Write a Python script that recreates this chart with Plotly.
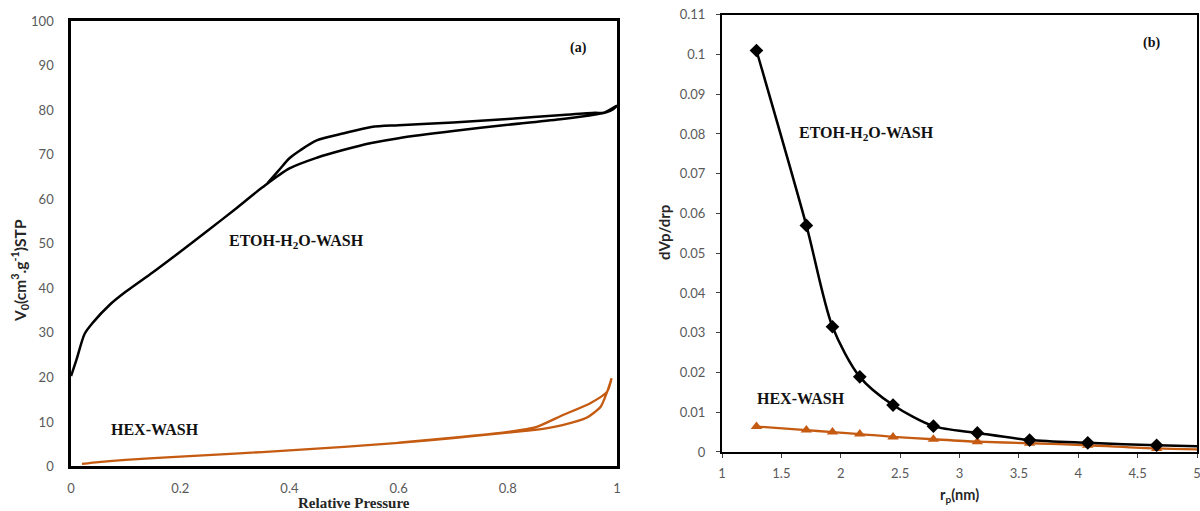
import plotly.graph_objects as go

# ---------------- Panel (a): N2 isotherms ----------------
etoh_ads_p = [0.0, 0.01, 0.025, 0.04, 0.07, 0.1, 0.15, 0.2, 0.25, 0.3, 0.35, 0.4, 0.45, 0.5,
              0.55, 0.6, 0.7, 0.8, 0.9, 0.96, 0.98, 0.993, 1.0]
etoh_ads_v = [20.3, 24.0, 29.8, 32.3, 36.2, 39.2, 43.6, 48.2, 52.9, 57.7, 62.6, 66.9, 69.3, 71.1,
              72.6, 73.7, 75.3, 76.7, 78.0, 79.0, 79.5, 80.2, 81.0]
etoh_des_p = [0.975, 0.96, 0.9, 0.8, 0.7, 0.6, 0.55, 0.5, 0.45, 0.42, 0.4, 0.38, 0.36]
etoh_des_v = [79.4, 79.4, 78.9, 78.0, 77.2, 76.6, 76.2, 74.8, 73.2, 71.0, 69.2, 66.4, 63.6]

hex_ads_p = [0.02, 0.05, 0.1, 0.2, 0.3, 0.4, 0.5, 0.6, 0.7, 0.8, 0.85, 0.9, 0.945, 0.97, 0.982, 0.99]
hex_ads_v = [0.6, 1.0, 1.5, 2.2, 2.9, 3.6, 4.4, 5.3, 6.4, 7.6, 8.2, 9.3, 11.0, 13.4, 16.8, 19.8]
hex_des_p = [0.982, 0.951, 0.9, 0.853, 0.8, 0.7, 0.6]
hex_des_v = [16.8, 14.2, 11.5, 8.9, 7.75, 6.45, 5.35]

# ---------------- Panel (b): pore size distribution ----------------
rp_nm = [1.29, 1.71, 1.93, 2.16, 2.44, 2.78, 3.15, 3.59, 4.08, 4.66, 5.33]
etoh_dvdr = [0.1010, 0.0570, 0.0315, 0.0189, 0.0118, 0.0065, 0.0048, 0.0030, 0.0023, 0.0017, 0.0012]
hex_dvdr = [0.0064, 0.0055, 0.0050, 0.0045, 0.0038, 0.0032, 0.0026, 0.0022, 0.0017, 0.0009, 0.0005]

xa_ticks = [0, 0.2, 0.4, 0.6, 0.8, 1]
ya_ticks = [0, 10, 20, 30, 40, 50, 60, 70, 80, 90, 100]
xb_ticks = [1, 1.5, 2, 2.5, 3, 3.5, 4, 4.5, 5]
yb_ticks = [0, 0.01, 0.02, 0.03, 0.04, 0.05, 0.06, 0.07, 0.08, 0.09, 0.1, 0.11]
yb_text = ["0", "0.01", "0.02", "0.03", "0.04", "0.05", "0.06", "0.07", "0.08", "0.09", "0.1", "0.11"]

BLACK = "#000000"
ORANGE = "#C55A11"
SANS = "Lato, 'Open Sans', sans-serif"
TICKFONT = dict(family=SANS, size=13, color="#595959")
SERIF = "Liberation Serif, 'Times New Roman', serif"

fig = go.Figure()

fig.add_trace(go.Scatter(x=etoh_ads_p + etoh_des_p, y=etoh_ads_v + etoh_des_v, mode="lines",
                         line=dict(color=BLACK, width=2.5, shape="spline", smoothing=0.8),
                         xaxis="x", yaxis="y", showlegend=False))
fig.add_trace(go.Scatter(x=hex_ads_p + hex_des_p, y=hex_ads_v + hex_des_v, mode="lines",
                         line=dict(color=ORANGE, width=2.3, shape="spline", smoothing=0.6),
                         xaxis="x", yaxis="y", showlegend=False))

fig.add_trace(go.Scatter(x=rp_nm, y=hex_dvdr, mode="lines+markers",
                         line=dict(color=ORANGE, width=2.3, shape="spline", smoothing=0.8),
                         marker=dict(symbol="triangle-up", size=10, color=ORANGE),
                         xaxis="x2", yaxis="y2", showlegend=False))
fig.add_trace(go.Scatter(x=rp_nm, y=etoh_dvdr, mode="lines+markers",
                         line=dict(color=BLACK, width=2.5, shape="spline", smoothing=0.8),
                         marker=dict(symbol="diamond", size=10.5, color=BLACK),
                         xaxis="x2", yaxis="y2", showlegend=False))

axis_common = dict(showgrid=False, zeroline=False, showline=True, mirror=True,
                   linecolor=BLACK, tickfont=TICKFONT, automargin=False,
                   ticklabeloverflow="allow")

fig.update_layout(
    width=1200, height=511,
    margin=dict(l=0, r=0, t=0, b=0, pad=0),
    paper_bgcolor="white", plot_bgcolor="white",
    xaxis=dict(domain=[0.0592, 0.5142], range=[0, 1], tickvals=xa_ticks, ticks="",
               linewidth=2.5, ticklabelstandoff=8, anchor="y", **axis_common),
    yaxis=dict(domain=[0.0871, 0.9589], range=[0, 100], tickvals=ya_ticks, ticks="",
               linewidth=2.5, ticklabelstandoff=12, anchor="x", **axis_common),
    xaxis2=dict(domain=[0.6017, 0.9975], range=[1, 5], tickvals=xb_ticks, ticks="outside",
                ticklen=4, tickcolor="#404040", linewidth=2.2, ticklabelstandoff=4,
                anchor="y2", **axis_common),
    yaxis2=dict(domain=[0.1155, 0.9712], range=[0, 0.11], tickvals=yb_ticks, ticktext=yb_text,
                ticks="outside", ticklen=4, tickcolor="#404040", linewidth=2.2,
                ticklabelstandoff=8, anchor="x2", **axis_common),
)

def px_x(px):
    return px / 1200.0

def px_y(py):
    return 1 - py / 511.0

C = dict(xanchor="center", yanchor="middle", showarrow=False)
ann = []
# axis titles
ann.append(dict(text="<b>Relative Pressure</b>", x=px_x(354), y=px_y(503), xref="paper", yref="paper",
                font=dict(family=SERIF, size=15, color="#262626"), **C))
ann.append(dict(text="<b>V<sub>0</sub>(cm<sup>3</sup>.g<sup>-1</sup>)STP</b>", x=px_x(19), y=px_y(271),
                xref="paper", yref="paper", textangle=-90,
                font=dict(family=SANS, size=15.5, color="#262626"), **C))
ann.append(dict(text="<b>dVp/drp</b>", x=px_x(664), y=px_y(233), xref="paper", yref="paper",
                textangle=-90, font=dict(family=SANS, size=15, color="#262626"), **C))
ann.append(dict(text="<b>r<sub>p</sub>(nm)</b>", x=px_x(959), y=px_y(495), xref="paper", yref="paper",
                font=dict(family=SANS, size=14.5, color="#262626"), **C))
# panel labels
lab = dict(font=dict(family=SERIF, size=16, color="#111111"), **C)
small = dict(font=dict(family=SERIF, size=14, color="#111111"), **C)
ann.append(dict(text="<b>(a)</b>", x=0.929, y=94.0, xref="x", yref="y", **small))
ann.append(dict(text="<b>ETOH-H<sub>2</sub>O-WASH</b>", x=0.413, y=50.5, xref="x", yref="y", **lab))
ann.append(dict(text="<b>HEX-WASH</b>", x=0.154, y=8.2, xref="x", yref="y", **lab))
ann.append(dict(text="<b>(b)</b>", x=4.62, y=0.1029, xref="x2", yref="y2", **small))
ann.append(dict(text="<b>ETOH-H<sub>2</sub>O-WASH</b>", x=2.22, y=0.0800, xref="x2", yref="y2", **lab))
ann.append(dict(text="<b>HEX-WASH</b>", x=1.665, y=0.0134, xref="x2", yref="y2", **lab))
fig.update_layout(annotations=ann)

fig.write_html("out.html")
